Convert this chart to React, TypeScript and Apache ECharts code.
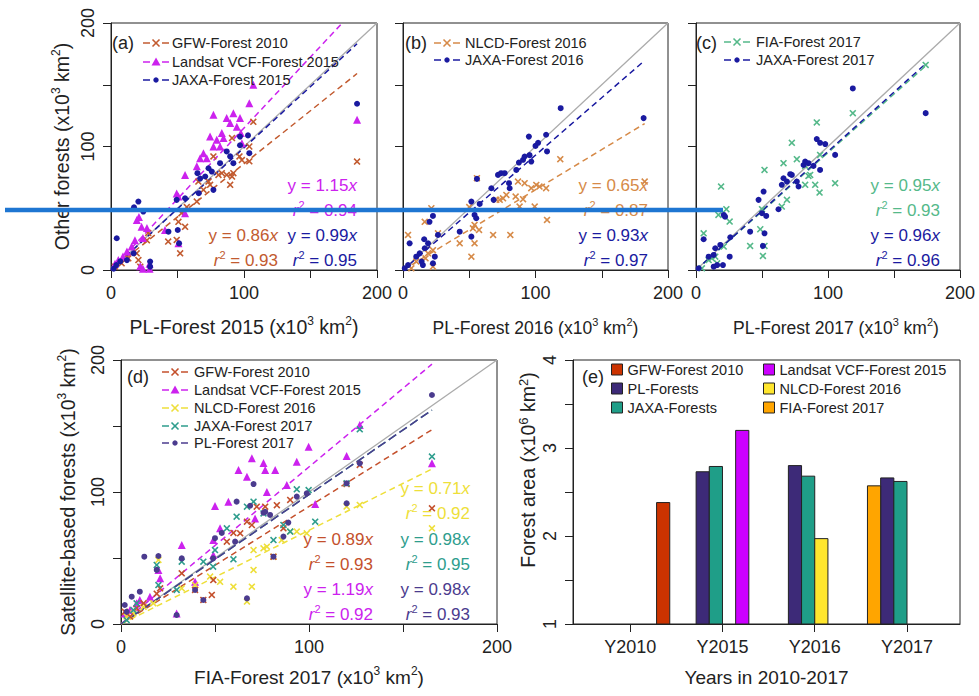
import React, { useEffect, useRef } from 'react';
import * as echarts from 'echarts';

const ARIAL = '"Liberation Sans", Arial, Helvetica, sans-serif';
const INK = '#222222';

// ---------- Panel (a): PL-Forest 2015 (x) vs other forests (y), x10^3 km2 ----------
const aGFW: number[][] = [[3,2.7],[8,5.4],[13,9.5],[19.3,13.5],[20.6,8],[22,2.7],[27,24],[28,30],[43,23],[49.4,24.3],[52,13.5],[50.7,39],[53,46],[55.7,35],[57,51],[64.5,55.4],[65.7,71.6],[69.5,64.9],[73.3,71.6],[74.5,69],[77,92],[80.8,77],[83.3,78.4],[87,77],[89.6,69],[91,75.7],[92,78.4],[91,106.8],[96.6,92],[98.4,89],[104,100],[104,88],[107,120],[185,87.8]];
const aLandsat: number[][] = [[3,5],[5.5,8],[9,11],[12,15],[15.5,19],[18,24],[19.4,40.5],[21,43],[23,35],[24,26],[22,3],[24,1],[29,1],[29,5],[27,34],[40.6,32.4],[49.4,62],[50.7,59.5],[50.7,21.6],[55.7,77],[55.7,46],[64.5,84],[67,90.5],[69.5,94.6],[72,90.5],[74.5,108],[77,125.7],[77,100],[79.5,105.4],[82,100],[83.3,111],[84.6,106.8],[87,123],[89.6,119],[92,127],[94.6,116],[97,123],[97.6,111],[98.4,102.7],[104,135],[107,150],[185,121.6]];
const aJAXA: number[][] = [[2,1],[4,4],[7,7],[4.3,25.7],[12,8],[17,13.5],[17.3,50.8],[20.6,55.4],[24.3,47.3],[29.4,6.8],[29.4,2.7],[43.2,31],[49.4,56.8],[50.2,32.4],[51.2,21.6],[55.7,58.1],[65,78.4],[66,62.2],[67,74],[70.8,75.7],[73.3,82.4],[75.8,79.7],[77,64.9],[82,86.5],[87,96],[89.6,92],[92,86.5],[97,108],[97,101],[103,109],[104,94.6],[185,134.6]];
const aSlope = [0.86, 1.15, 0.99]; // GFW, Landsat, JAXA
const aR2 = [0.93, 0.94, 0.95];

// ---------- Panel (b): PL-Forest 2016 ----------
const bNLCD: number[][] = [[3.8,28.4],[6.3,1.4],[10,6.8],[16.4,39],[17,9.5],[18.9,13.5],[21.4,50],[22.6,2.7],[22.6,16],[26.4,29.7],[42.8,21.6],[50,51],[51.6,10.8],[52.8,33.8],[54,21.6],[54,36.5],[55.8,74.3],[57.4,32.4],[68,28.4],[70.4,56.8],[73,56.8],[75.5,58],[78,60.8],[81,28.4],[85,59.5],[86.8,71.6],[88,51.4],[90.6,57.3],[91.8,70.3],[96.8,66.2],[99.4,51.4],[100.6,68.9],[103,67.6],[108,66.2],[108.7,40.5],[118.7,89.7],[182.4,71.6]];
const bJAXA: number[][] = [[1.3,1.4],[3.8,4],[5,21.6],[10,10.8],[12.6,13.5],[14,6.8],[15,4],[16,24.9],[16.4,17.6],[18.9,21.6],[20,39],[22.6,43.8],[22.6,5.4],[24,10.8],[26.4,28.4],[42.8,31],[51.6,55.4],[51.6,27],[54,44.6],[55.3,41.9],[55.8,73.8],[57.9,53.5],[66.7,66.2],[68.4,56.8],[71.7,77],[74,78.4],[76.7,78.4],[80,70.3],[80.5,66.2],[85.5,81],[87.5,87],[90.6,89.2],[91.8,91.9],[95,108],[95.5,93],[96.8,87.8],[100,100.5],[102,103],[108,109.5],[108.7,96],[119,131],[181.6,123]];
const bSlope = [0.65, 0.93]; // NLCD, JAXA
const bR2 = [0.87, 0.97];

// ---------- Panel (c): PL-Forest 2017 ----------
const cFIA: number[][] = [[4.5,1.4],[5.8,29.7],[9.6,8],[12,9.5],[14.6,10.8],[16,5.4],[17,44.6],[19,67.6],[21,19],[23,49.2],[25.5,39.2],[41,19.5],[48.7,33],[50,49.2],[50.7,11.4],[51.9,81],[51.9,19.5],[65,51.4],[66.3,86.5],[68.9,56.8],[72.6,103],[76.4,89.7],[82.7,84.3],[82.7,69],[85.2,76.2],[86.5,77],[90.3,69],[91.5,119.5],[93.6,62.7],[94,93.2],[105.4,70.3],[118.8,127],[174,166]];
const cJAXA: number[][] = [[2,1.4],[5.8,24.9],[9.6,10.8],[13.4,12.2],[13.4,2.7],[14.6,17.6],[16,4],[18.4,20.3],[20.4,4],[21,44.6],[22,43.2],[25.5,10.8],[26,26.5],[41,31],[47.4,56.8],[50,46],[50.7,19.5],[51.2,63.5],[51.9,29.7],[53.2,43.8],[62.5,49.2],[65,69],[66.3,74.3],[68.9,71.6],[71.4,77.6],[72.6,77],[76.4,71.6],[77.7,67.6],[81.5,85],[82.7,87.8],[85.2,86.5],[89,84.3],[91.5,106],[94,103],[94,81],[97.9,102],[105.4,93.2],[118.8,147],[174,127]];
const cSlope = [0.95, 0.96]; // FIA, JAXA
const cR2 = [0.93, 0.96];

// ---------- Panel (d): FIA-Forest 2017 (x) vs satellite-based forests ----------
const dGFW: number[][] = [[2,9.3],[4.8,5.6],[8.3,11.9],[12,15.7],[19,23],[20.8,27],[32.3,38.4],[39.4,25.8],[43.8,18.2],[48.3,22],[49.1,33.3],[56.3,62.4],[59.8,69],[63.4,68.7],[67,77.5],[69.6,75],[72.2,88.9],[76.7,88.9],[81.1,51],[82.9,90],[86.4,72.5],[90,94],[120,106],[127,120.5],[165.4,87.6]];
const dLandsat: number[][] = [[2,8],[4.8,10.6],[8.3,15.7],[10,18.2],[15.4,20.7],[19.9,41],[20.8,34.6],[29.6,8],[32.3,59.8],[39.4,32],[49.1,63.6],[49.1,52.3],[50,89.4],[52.7,72.5],[57.1,92.7],[62.5,116.7],[67,111.6],[69.6,125.5],[71.3,80],[75.8,122],[76.7,116.7],[77.6,100],[82,116.7],[88.2,105.3],[93.5,123],[99.8,134.3],[103.3,90.9],[120,127.3],[127,150.8],[165.4,121.7]];
const dNLCD: number[][] = [[3,5.6],[6.6,8],[12,13],[17.2,15.7],[19.9,48.5],[32.3,27],[39.4,29.5],[47.4,35.9],[52.7,32],[59.8,28.3],[67,17],[69.6,28.3],[70.5,41],[70.5,56],[75.8,57.3],[77.6,58.6],[81.1,51],[85.5,63.6],[90,70],[93.5,70],[98.8,68.7],[120,89],[127,90.2],[165.4,72.5]];
const dJAXA: number[][] = [[3,3],[6.6,10.6],[8.3,15.7],[19,44.7],[19.9,29.5],[29.6,25.8],[32.3,47.2],[43.8,47.2],[49,43.4],[50,56],[56.3,72.5],[59.8,49],[61.5,81.3],[67,88.9],[70.5,92.7],[75.8,83.8],[81.1,63.6],[86.4,75],[90,70],[93.5,102],[99.8,101.5],[103.3,77.5],[120,106.6],[127,147.5],[165.4,126.8]];
const dPL: number[][] = [[2,14.4],[3,9.3],[5.7,20.7],[10,24.5],[12.4,51],[19.9,51.5],[19,41],[29.6,6.8],[32.3,49.7],[39.4,25.8],[43.8,18.2],[49,49.7],[50,65],[53.6,69],[60.7,62.4],[61.5,92.7],[67,19.4],[68.7,89.6],[70.5,106],[75.8,84.3],[76.7,85],[79.3,82.6],[81.1,51],[86.4,66.2],[89,76.8],[93.5,96.5],[98.8,99],[120,91.4],[120,106.6],[127,121.7],[165.4,173.5]];
const dSlope = [0.89, 1.19, 0.71, 0.98, 0.98]; // GFW, Landsat, NLCD, JAXA, PL
const dR2 = [0.93, 0.92, 0.92, 0.95, 0.93];

// ---------- Panel (e): forest area, x10^6 km2 ----------
const years = ['Y2010', 'Y2015', 'Y2016', 'Y2017'];
const barFIA = [null, null, null, 2.57];
const barPL = [null, 2.73, 2.80, 2.66];
const barJAXA = [null, 2.79, 2.68, 2.62];
const barNLCD = [null, null, 1.97, null];
const barLandsat = [null, 3.20, null, null];
const barGFW = [2.38, null, null, null];

const scaleTicks = [0, 50, 100, 150, 200];

// colours
const COL = {
  gfw: '#C25B30', landsat: '#CC22EE', jaxa: '#1A1AA0', nlcdB: '#D68A48', fiaC: '#55B98A',
  gfwD: '#C4502C', nlcdD: '#EEDF3A', jaxaD: '#2E9D8D', plD: '#4B3B8E', one: '#ABABAB',
};
const BARCOL = { fia: '#FFA500', pl: '#3D2A78', jaxa: '#1F9E88', nlcd: '#FFE62E', landsat: '#CC00FF', gfw: '#CC3300' };

const CROSS = 'path://M0,1.6L1.6,0L5,3.4L8.4,0L10,1.6L6.6,5L10,8.4L8.4,10L5,6.6L1.6,10L0,8.4L3.4,5Z';
const SUP = { s: { fontSize: 12, lineHeight: 12, verticalAlign: 'top', color: INK, fontFamily: ARIAL } };

const grids = [
  { left: 111, top: 23, width: 266, height: 247 },
  { left: 403, top: 23, width: 265, height: 247 },
  { left: 696, top: 23, width: 264, height: 247 },
  { left: 121, top: 360, width: 376, height: 264 },
  { left: 573, top: 360, width: 387, height: 264 },
].map((g) => ({ ...g, show: true, borderColor: INK, borderWidth: 1, containLabel: false }));

const lineAxis = { show: true, onZero: false, lineStyle: { color: INK, width: 1 } };
const tickStyle = { show: true, length: 8, inside: false, lineStyle: { color: INK, width: 1 } };

function sx(gi: number, name: string, gap: number, size = 19, pad: number[] = [0, 0, 0, 0]) {
  return {
    gridIndex: gi, type: 'value', min: 0, max: 200, interval: 50,
    axisLine: lineAxis, axisTick: tickStyle, splitLine: { show: false },
    axisLabel: {
      show: true, margin: 14, fontSize: 18, color: INK, fontFamily: ARIAL, showMinLabel: true, showMaxLabel: true,
      formatter: (v: number) => (v % 100 === 0 ? String(v) : ''),
    },
    name, nameLocation: 'middle', nameGap: gap,
    nameTextStyle: {
      fontSize: size, lineHeight: 24, color: INK, fontFamily: ARIAL, padding: pad,
      rich: { s: { ...SUP.s, fontSize: Math.round(size * 0.63) } },
    },
  };
}
function sy(gi: number, labels: boolean, name: string, gap: number) {
  return {
    gridIndex: gi, type: 'value', min: 0, max: 200, interval: 50,
    axisLine: lineAxis, axisTick: tickStyle, splitLine: { show: false },
    axisLabel: {
      show: labels, rotate: 90, margin: 14, fontSize: 18, color: INK, fontFamily: ARIAL, showMinLabel: true, showMaxLabel: true,
      formatter: (v: number) => (v % 100 === 0 ? String(v) : ''),
    },
    name, nameLocation: 'middle', nameGap: gap, nameRotate: 90,
    nameTextStyle: { fontSize: 19.5, lineHeight: 24, color: INK, fontFamily: ARIAL, rich: SUP },
  };
}

function sc(gi: number, name: string, data: number[][], symbol: string, size: number, color: string) {
  return { type: 'scatter', name, xAxisIndex: gi, yAxisIndex: gi, data, symbol, symbolSize: size, itemStyle: { color, opacity: 1 }, z: 3, silent: true };
}
function fit(gi: number, data: number[][], slope: number, color: string, dash: number[]) {
  const xm = Math.max(...data.map((p) => p[0]));
  return {
    type: 'line', xAxisIndex: gi, yAxisIndex: gi, data: [[0, 0], [xm, slope * xm]], symbol: 'none', showSymbol: false,
    lineStyle: { color, width: 1.5, type: dash }, z: 2, silent: true, clip: true,
  };
}
function oneToOne(gi: number) {
  return {
    type: 'line', xAxisIndex: gi, yAxisIndex: gi, data: [[scaleTicks[0], scaleTicks[0]], [scaleTicks[4], scaleTicks[4]]],
    symbol: 'none', lineStyle: { color: COL.one, width: 1.3 }, z: 1, silent: true,
  };
}

// bar layout: 6 bar slots per year group plus one space
const SLOT_ORDER = ['fia', 'pl', 'jaxa', 'nlcd', 'landsat', 'gfw'];
const GROUP = 7;
function barSeries(name: string, key: string, values: (number | null)[]) {
  const slot = SLOT_ORDER.indexOf(key) - 2.5;
  const data = values.map((v, i) => (v == null ? null : [i * GROUP + slot, v])).filter((d) => d != null);
  const color = (BARCOL as any)[key];
  return {
    type: 'custom', name, xAxisIndex: 4, yAxisIndex: 4, data, itemStyle: { color }, z: 3, silent: true,
    renderItem: (_p: any, api: any) => {
      const x = api.value(0), y = api.value(1);
      const p0 = api.coord([x - 0.5, y]);
      const p1 = api.coord([x + 0.5, 1]);
      return {
        type: 'rect',
        shape: { x: p0[0], y: p0[1], width: p1[0] - p0[0], height: p1[1] - p0[1] },
        style: { fill: color, stroke: INK, lineWidth: 1 },
      };
    },
  };
}

function txt(x: number, y: number, text: string, fill: string, size: number, align: string, extra: any = {}) {
  return {
    type: 'text', x, y, z: 50, silent: true, ...extra,
    style: {
      text, fill, fontSize: size, fontFamily: ARIAL, align, textAlign: align, verticalAlign: 'middle', textVerticalAlign: 'middle',
      lineHeight: 22,
      rich: {
        i: { fontStyle: 'italic', fontSize: size, fontFamily: ARIAL, fill, lineHeight: 22 },
        s: { fontSize: Math.round(size * 0.65), fontFamily: ARIAL, fill, lineHeight: 11, verticalAlign: 'top' },
      },
    },
  };
}
function eq(xr: number, y: number, color: string, slope: number, r2: number) {
  return [
    txt(xr, y, `y = ${slope.toFixed(2)}{i|x}`, color, 17, 'right'),
    txt(xr, y + 25, `{i|r}{s|2} = ${r2.toFixed(2)}`, color, 17, 'right'),
  ];
}
function legRow(x0: number, y: number, color: string, marker: string, label: string, tx: number) {
  const cx = x0 + 13;
  const els: any[] = [
    { type: 'line', shape: { x1: x0, y1: y, x2: x0 + 7, y2: y }, style: { stroke: color, lineWidth: 1.5 } },
    { type: 'line', shape: { x1: x0 + 19, y1: y, x2: x0 + 26, y2: y }, style: { stroke: color, lineWidth: 1.5 } },
  ];
  if (marker === 'dot') els.push({ type: 'circle', shape: { cx, cy: y, r: 2.7 }, style: { fill: color } });
  else if (marker === 'tri') els.push({ type: 'polygon', shape: { points: [[cx, y - 4.5], [cx - 4.5, y + 3.5], [cx + 4.5, y + 3.5]] }, style: { fill: color } });
  else {
    els.push({ type: 'line', shape: { x1: cx - 3.5, y1: y - 3.5, x2: cx + 3.5, y2: y + 3.5 }, style: { stroke: color, lineWidth: 1.6 } });
    els.push({ type: 'line', shape: { x1: cx - 3.5, y1: y + 3.5, x2: cx + 3.5, y2: y - 3.5 }, style: { stroke: color, lineWidth: 1.6 } });
  }
  els.push(txt(tx, y, label, INK, 14.5, 'left'));
  return els.map((e) => ({ z: 40, silent: true, ...e }));
}

const DASH = [6, 4];
const LDASH = [9, 4];

const option: any = {
  animation: false,
  backgroundColor: '#ffffff',
  grid: grids,
  xAxis: [
    sx(0, 'PL-Forest 2015 (x10{s|3} km{s|2})', 45, 19.5),
    sx(1, 'PL-Forest 2016 (x10{s|3} km{s|2})', 46, 17.5),
    sx(2, 'PL-Forest 2017 (x10{s|3} km{s|2})', 46, 17.5, [0, 0, 0, 16]),
    sx(3, 'FIA-Forest 2017 (x10{s|3} km{s|2})', 41, 19),
    {
      gridIndex: 4, type: 'value', min: -4.34, max: 25.02,
      axisLine: lineAxis, splitLine: { show: false },
      axisTick: { ...tickStyle, customValues: years.map((_, i) => i * GROUP) },
      axisLabel: {
        margin: 14, fontSize: 18, color: INK, fontFamily: ARIAL,
        customValues: years.map((_, i) => i * GROUP),
        formatter: (v: number) => years[Math.round(v / GROUP)] ?? '',
      },
      name: 'Years in 2010-2017', nameLocation: 'middle', nameGap: 41,
      nameTextStyle: { fontSize: 19, lineHeight: 24, color: INK, fontFamily: ARIAL },
    },
  ],
  yAxis: [
    sy(0, true, 'Other forests (x10{s|3} km{s|2})', 37),
    sy(1, false, '', 30),
    sy(2, false, '', 30),
    sy(3, true, 'Satellite-based forests (x10{s|3} km{s|2})', 41),
    {
      gridIndex: 4, type: 'value', min: 1, max: 4, interval: 0.5,
      axisLine: lineAxis, axisTick: tickStyle, splitLine: { show: false },
      axisLabel: {
        rotate: 90, margin: 14, fontSize: 18, color: INK, fontFamily: ARIAL, showMinLabel: true, showMaxLabel: true,
        formatter: (v: number) => (Math.abs(v - Math.round(v)) < 1e-6 ? String(Math.round(v)) : ''),
      },
    },
  ],
  legend: [
    {
      left: 611, top: 362, orient: 'vertical', padding: 0, itemWidth: 11, itemHeight: 11, itemGap: 4, icon: 'rect',
      selectedMode: false, itemStyle: { borderColor: INK, borderWidth: 1 },
      textStyle: { fontSize: 14.5, lineHeight: 14, color: INK, fontFamily: ARIAL },
      data: ['GFW-Forest 2010', 'PL-Forests', 'JAXA-Forests'],
    },
    {
      left: 763, top: 362, orient: 'vertical', padding: 0, itemWidth: 11, itemHeight: 11, itemGap: 4, icon: 'rect',
      selectedMode: false, itemStyle: { borderColor: INK, borderWidth: 1 },
      textStyle: { fontSize: 14.5, lineHeight: 14, color: INK, fontFamily: ARIAL },
      data: ['Landsat VCF-Forest 2015', 'NLCD-Forest 2016', 'FIA-Forest 2017'],
    },
  ],
  series: [
    // (a)
    oneToOne(0),
    fit(0, aGFW, aSlope[0], COL.gfw, DASH),
    fit(0, aLandsat, aSlope[1], COL.landsat, DASH),
    fit(0, aJAXA, aSlope[2], COL.jaxa, DASH),
    sc(0, '(a) GFW-Forest 2010', aGFW, CROSS, 7, COL.gfw),
    sc(0, '(a) Landsat VCF-Forest 2015', aLandsat, 'triangle', 8, COL.landsat),
    sc(0, '(a) JAXA-Forest 2015', aJAXA, 'circle', 6, COL.jaxa),
    // (b)
    oneToOne(1),
    fit(1, bNLCD, bSlope[0], COL.nlcdB, DASH),
    fit(1, bJAXA, bSlope[1], COL.jaxa, DASH),
    sc(1, '(b) NLCD-Forest 2016', bNLCD, CROSS, 7, COL.nlcdB),
    sc(1, '(b) JAXA-Forest 2016', bJAXA, 'circle', 6, COL.jaxa),
    // (c)
    oneToOne(2),
    fit(2, cFIA, cSlope[0], COL.fiaC, DASH),
    fit(2, cJAXA, cSlope[1], COL.jaxa, DASH),
    sc(2, '(c) FIA-Forest 2017', cFIA, CROSS, 7, COL.fiaC),
    sc(2, '(c) JAXA-Forest 2017', cJAXA, 'circle', 6, COL.jaxa),
    // (d)
    oneToOne(3),
    fit(3, dGFW, dSlope[0], COL.gfwD, DASH),
    fit(3, dLandsat, dSlope[1], COL.landsat, DASH),
    fit(3, dNLCD, dSlope[2], COL.nlcdD, DASH),
    fit(3, dJAXA, dSlope[3], COL.jaxaD, LDASH),
    fit(3, dPL, dSlope[4], COL.plD, LDASH),
    sc(3, '(d) Landsat VCF-Forest 2015', dLandsat, 'triangle', 8, COL.landsat),
    sc(3, '(d) NLCD-Forest 2016', dNLCD, CROSS, 7, COL.nlcdD),
    sc(3, '(d) GFW-Forest 2010', dGFW, CROSS, 7, COL.gfwD),
    sc(3, '(d) JAXA-Forest 2017', dJAXA, CROSS, 7, COL.jaxaD),
    sc(3, '(d) PL-Forest 2017', dPL, 'circle', 6, COL.plD),
    // (e)
    barSeries('GFW-Forest 2010', 'gfw', barGFW),
    barSeries('PL-Forests', 'pl', barPL),
    barSeries('JAXA-Forests', 'jaxa', barJAXA),
    barSeries('Landsat VCF-Forest 2015', 'landsat', barLandsat),
    barSeries('NLCD-Forest 2016', 'nlcd', barNLCD),
    barSeries('FIA-Forest 2017', 'fia', barFIA),
  ],
  graphic: [
    // panel tags
    txt(112, 43, '(a)', INK, 18, 'left'),
    txt(405, 43, '(b)', INK, 18, 'left'),
    txt(696, 43, '(c)', INK, 18, 'left'),
    txt(127, 377, '(d)', INK, 18, 'left'),
    txt(582, 377, '(e)', INK, 18, 'left'),
    // legends (a)
    ...legRow(143, 43, COL.gfw, 'x', 'GFW-Forest 2010', 172),
    ...legRow(143, 62, COL.landsat, 'tri', 'Landsat VCF-Forest 2015', 172),
    ...legRow(143, 80, COL.jaxa, 'dot', 'JAXA-Forest 2015', 172),
    // legends (b)
    ...legRow(434, 43, COL.nlcdB, 'x', 'NLCD-Forest 2016', 465),
    ...legRow(434, 60, COL.jaxa, 'dot', 'JAXA-Forest 2016', 465),
    // legends (c)
    ...legRow(724, 42, COL.fiaC, 'x', 'FIA-Forest 2017', 756),
    ...legRow(724, 60, COL.jaxa, 'dot', 'JAXA-Forest 2017', 756),
    // legends (d)
    ...legRow(162, 372, COL.gfwD, 'x', 'GFW-Forest 2010', 194),
    ...legRow(162, 390, COL.landsat, 'tri', 'Landsat VCF-Forest 2015', 194),
    ...legRow(162, 408, COL.nlcdD, 'x', 'NLCD-Forest 2016', 194),
    ...legRow(162, 426, COL.jaxaD, 'x', 'JAXA-Forest 2017', 194),
    ...legRow(162, 443, COL.plD, 'dot', 'PL-Forest 2017', 194),
    // equations
    ...eq(357, 185, COL.landsat, aSlope[1], aR2[1]),
    ...eq(278, 235, COL.gfw, aSlope[0], aR2[0]),
    ...eq(357, 235, COL.jaxa, aSlope[2], aR2[2]),
    ...eq(648, 185, COL.nlcdB, bSlope[0], bR2[0]),
    ...eq(648, 235, COL.jaxa, bSlope[1], bR2[1]),
    ...eq(940, 185, COL.fiaC, cSlope[0], cR2[0]),
    ...eq(940, 235, COL.jaxa, cSlope[1], cR2[1]),
    ...eq(470, 488, COL.nlcdD, dSlope[2], dR2[2]),
    ...eq(373, 539, COL.gfwD, dSlope[0], dR2[0]),
    ...eq(470, 539, COL.jaxaD, dSlope[3], dR2[3]),
    ...eq(373, 589, COL.landsat, dSlope[1], dR2[1]),
    ...eq(470, 589, COL.plD, dSlope[4], dR2[4]),
    // y title of panel (e)
    txt(528, 470, 'Forest area (x10{s|6} km{s|2})', INK, 19.5, 'center', { rotation: Math.PI / 2 }),
    // blue overlay stroke present in the reference image
    { type: 'line', z: 100, silent: true, shape: { x1: 5, y1: 210, x2: 723, y2: 210 }, style: { stroke: '#1E76D2', lineWidth: 4.5 } },
  ],
};

export default function App() {
  const ref = useRef<HTMLDivElement>(null);
  useEffect(() => {
    if (!ref.current) return;
    const chart = echarts.init(ref.current, null, { renderer: 'svg' });
    chart.setOption(option);
    return () => chart.dispose();
  }, []);
  return <div ref={ref} style={{ position: 'absolute', left: 0, top: 0, width: 979, height: 696, background: '#fff' }} />;
}
